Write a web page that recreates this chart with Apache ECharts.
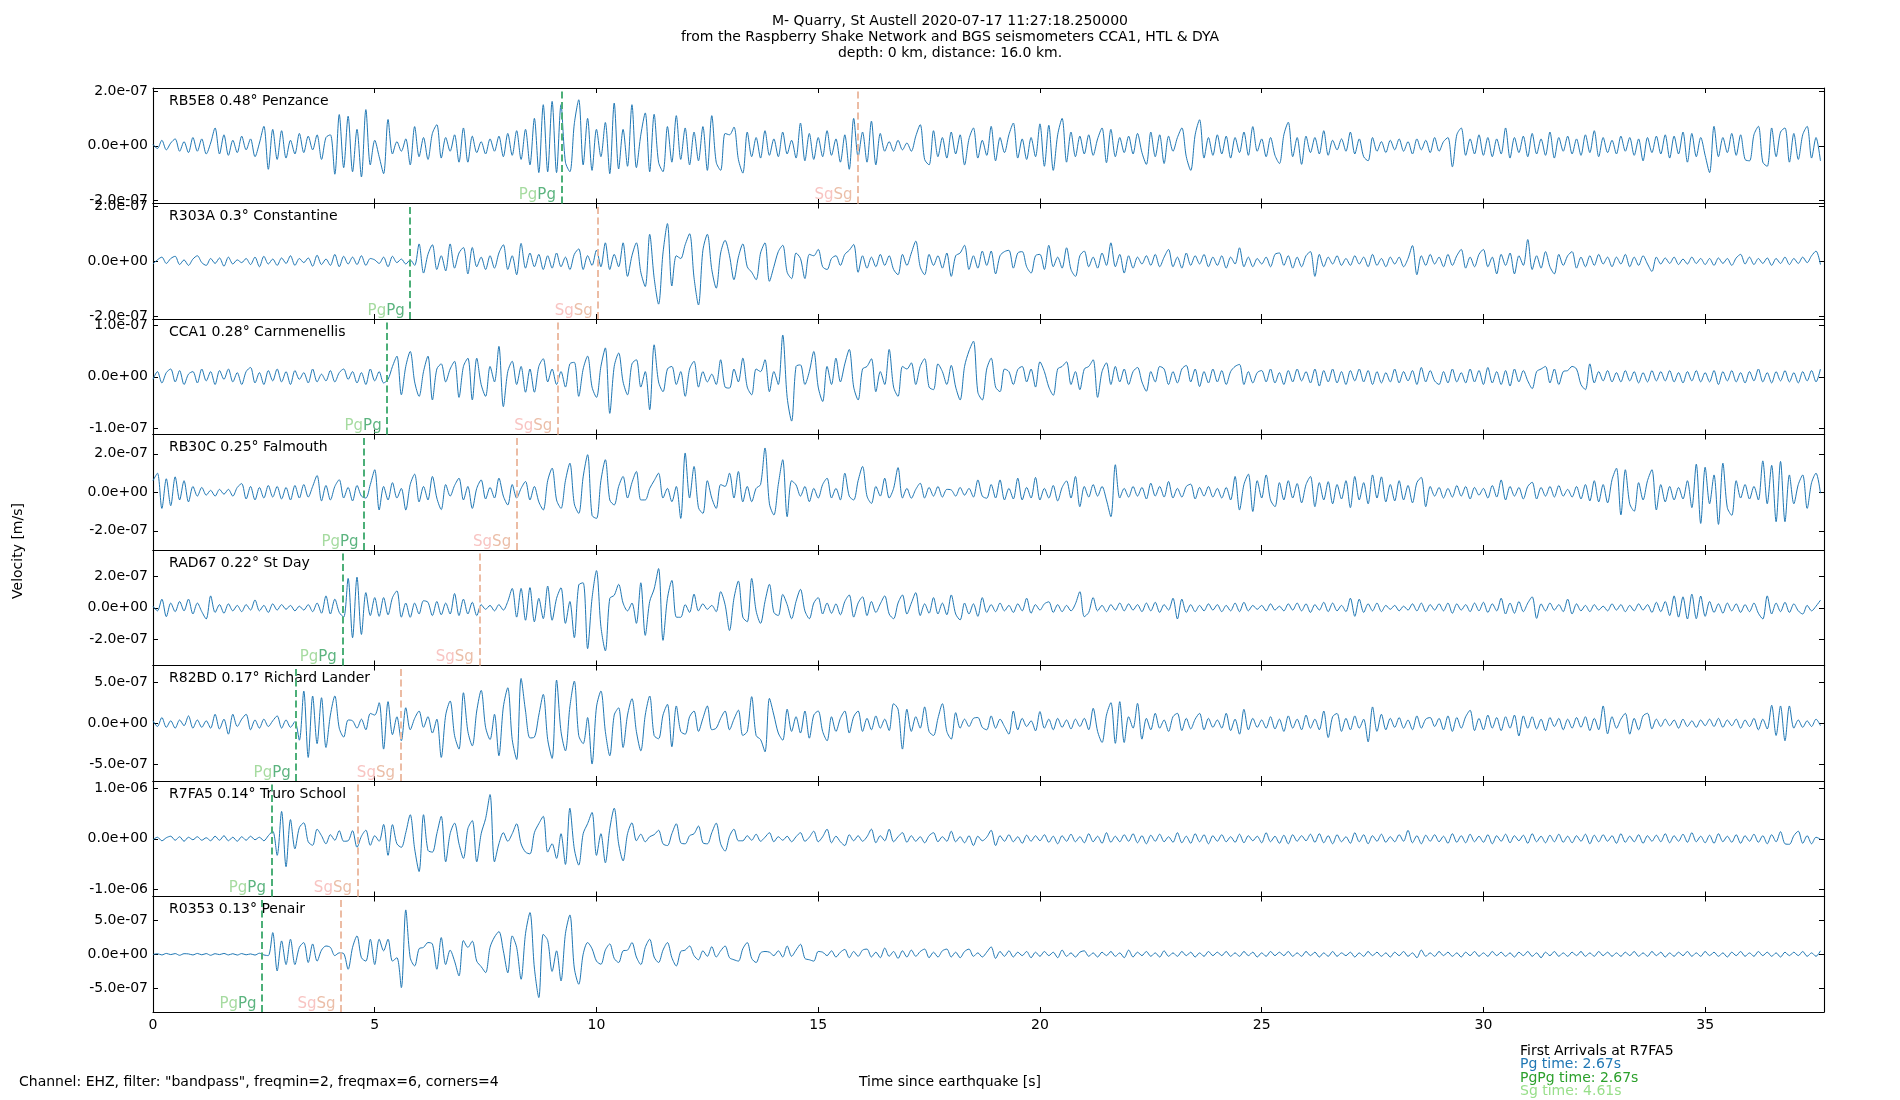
<!DOCTYPE html>
<html><head><meta charset="utf-8">
<script src="https://cdn.jsdelivr.net/npm/echarts@6/dist/echarts.min.js"></script>
<style>html,body{margin:0;padding:0;background:#fff}#c{width:1900px;height:1100px}</style>
</head><body><div id="c"></div>
<script>
// ---------------- DATA ----------------
const stationLabels = ['RB5E8 0.48° Penzance','R303A 0.3° Constantine','CCA1 0.28° Carnmenellis','RB30C 0.25° Falmouth','RAD67 0.22° St Day','R82BD 0.17° Richard Lander','R7FA5 0.14° Truro School','R0353 0.13° Penair'];
const pgTimes = [9.21, 5.80, 5.28, 4.76, 4.27, 3.23, 2.67, 2.46];
const sgTimes = [15.90, 10.04, 9.13, 8.20, 7.36, 5.58, 4.61, 4.24];
const yLimits = [2.11e-7, 2.1e-7, 1.12e-7, 3.0e-7, 3.7e-7, 7.08e-7, 1.146e-6, 8.4e-7];
const yTickSteps = [2e-7, 2e-7, 1e-7, 2e-7, 2e-7, 5e-7, 1e-6, 5e-7];
const xTicks = [0, 5, 10, 15, 20, 25, 30, 35];
const xMax = 37.68;
const sampleDt = 0.1;     // seconds between samples
const unit = 1e-9;        // samples below are in nm/s

const rb5e8 = [
5,-10,20,-15,10,25,-20,15,-25,30,
-20,25,-30,10,65,-30,40,-35,20,-25,
35,-15,25,-40,10,71,-86,60,-50,55,
-45,20,-30,45,-25,35,-15,40,-50,30,
40,-104,114,-80,108,-95,60,-114,132,-70,
20,-40,-102,96,-30,15,-20,25,-70,70,
-40,30,-50,45,77,-45,30,-20,40,-60,
65,-60,35,-25,15,-30,25,-20,35,-40,
45,-35,55,-50,60,-70,100,-98,150,-95,
162,-98,150,-60,-95,80,168,-70,100,-90,
60,-40,85,-102,156,-85,60,-75,150,-80,
40,120,-95,115,-60,-95,70,-60,110,-50,
65,-70,50,-55,70,-90,110,-60,-90,45,
40,68,-50,-100,50,-40,30,-45,55,-35,
25,-40,50,-30,20,-45,83,-55,45,-50,
30,-40,55,-35,25,-60,40,-86,100,-40,
50,-60,90,-70,45,-20,15,-20,20,-15,
10,-20,35,77,-50,-70,55,-40,30,-45,
50,-30,40,-70,25,65,-45,20,-35,71,
-55,30,-25,40,83,-45,25,-50,30,-40,
80,-75,75,-90,40,100,-60,50,-40,35,
-30,40,-35,25,65,-62,60,-40,30,-25,
35,-30,45,-25,-68,50,-40,40,-65,35,
-20,30,65,-40,-90,40,95,-45,30,-35,
40,-30,35,-45,30,-25,50,-35,70,-20,
25,-40,30,-35,-65,40,86,-40,30,-68,
35,-25,30,-30,55,-35,20,-15,25,-20,
50,-30,25,-40,-55,30,-20,15,-25,20,
-15,25,-20,15,-30,25,-15,20,-25,30,
-20,15,30,-77,40,65,-35,25,-30,40,
-35,30,-40,25,-30,65,-45,30,-25,35,
-40,45,-30,25,-35,50,-45,30,-20,35,
-30,25,-35,40,-25,55,-40,30,-25,20,
-30,35,-20,30,-35,25,-55,30,-25,35,
-30,40,-45,35,-30,50,-60,45,-40,30,
-35,-98,71,-40,30,-25,45,-35,40,-50,
-55,40,71,-60,-75,65,-40,50,65,-60,
45,-50,40,71,-45,30,-55];

const r303a = [
-10,5,15,-8,10,18,-12,5,-15,8,
20,-5,-15,10,-8,12,-18,15,-10,5,
-5,10,-12,15,-20,18,-10,8,-15,12,
-8,20,-15,10,-5,12,-18,22,-12,8,
-15,25,-20,18,-10,15,-12,20,-15,10,
5,-8,15,-20,18,-5,8,-10,5,-15,
63,-43,25,60,-30,20,-35,63,-25,30,
50,-46,50,-20,15,-30,20,-25,30,60,
-30,20,-49,65,-25,30,-20,25,-30,20,
-25,30,-20,15,-30,25,45,-30,20,-15,
40,-20,67,-30,25,-20,67,-55,20,67,
-40,-92,98,-60,-156,30,137,-90,20,10,
60,100,-60,-159,40,98,-30,-98,30,76,
20,-67,15,63,-20,-40,-67,30,67,-73,
-20,35,58,-40,-63,30,10,-63,25,20,
43,-20,-30,10,20,-15,25,40,61,-40,
20,-25,15,-20,25,-15,20,-30,-49,25,
-15,30,73,-20,-49,25,-15,20,-25,30,
-55,20,30,58,-30,20,-25,37,-15,37,
-46,20,35,40,-25,30,35,-20,-43,20,
25,-30,58,-20,15,-25,49,-30,-55,20,
37,-20,15,-25,30,-15,67,-20,25,-43,
20,-25,15,-10,20,-15,25,-20,15,43,
-20,15,-25,30,-15,20,-10,25,-20,15,
-15,20,-25,15,-10,49,-20,15,-20,10,
-10,15,-20,25,30,-15,20,-25,15,-20,
20,35,-55,25,-20,15,-10,20,-15,10,
-15,20,-10,15,-20,25,-15,10,-20,15,
-10,15,-20,10,57,-49,20,-15,25,-10,
15,-20,25,-15,20,43,-25,15,-20,25,
43,-20,15,-46,25,-15,30,-46,20,-15,
79,-30,20,-25,35,-20,-46,25,-15,20,
35,-25,15,-20,20,-15,25,-10,15,-20,
15,-10,25,-20,15,-15,20,-10,-37,15,
-10,12,-8,15,-12,8,-10,15,-8,10,
-12,10,-15,12,-8,10,-15,12,25,-10,
15,-12,10,-8,12,-15,10,-8,15,-12,
10,-8,15,-5,20,37,-12];

const cca1 = [
-5,10,-12,8,15,-10,12,-15,5,10,
-12,15,-8,10,-15,12,-5,15,-10,8,
-15,10,18,-12,8,-15,12,-8,15,-10,
10,-15,12,-5,8,-12,15,-10,5,-8,
12,-10,8,15,-5,10,-12,8,-15,15,
-8,10,-12,-5,20,40,-35,20,49,-10,
-38,10,40,-45,15,25,-10,15,30,-40,
20,36,-45,36,-15,-38,20,-10,59,-58,
10,30,-15,20,-30,15,-30,20,35,-10,
15,-15,10,-20,25,28,-38,15,40,-20,
-40,20,56,-71,20,46,-10,-35,25,33,
-20,10,-64,62,-10,-29,15,20,-15,10,
-38,15,30,-20,10,-10,5,-15,33,-20,
-22,15,-10,36,-20,-35,15,10,33,-29,
10,-15,81,-40,-86,20,23,-15,10,49,
-20,-48,20,-15,36,-10,25,53,-20,-45,
15,20,35,-29,10,-15,53,-20,-38,20,
15,27,-15,20,35,-20,-25,25,10,-15,
22,-20,-45,20,50,69,-30,-45,15,36,
-20,-29,15,10,-15,14,20,-10,15,-20,
29,10,-20,-36,15,20,29,-15,10,-25,
15,20,33,-40,10,27,-15,20,-10,15,
-15,10,18,-10,-28,10,-10,20,15,-15,
10,-12,15,22,-10,15,-19,10,-12,15,
-10,12,-15,10,20,24,-15,10,-12,8,
12,-10,15,-12,8,-15,12,-10,15,-8,
10,-12,15,-18,12,-10,15,-12,10,-15,
12,-8,15,-10,12,-15,10,-12,8,-10,
15,-12,10,-8,12,-15,18,-10,12,-8,
-15,10,-12,15,-10,8,-12,15,-10,12,
-15,18,-12,10,-15,12,-18,15,-10,12,
-8,-23,10,15,20,-12,15,-15,10,12,
20,15,-15,-25,25,-12,10,-8,12,-10,
8,-10,12,-8,10,-12,8,-10,12,-8,
10,-8,12,-10,8,-12,10,-8,12,-10,
8,-10,12,-15,10,-8,12,-10,8,-12,
10,-8,15,-10,8,-12,10,-8,12,-10,
8,-12,10,-8,12,-10,15];

const rb30c = [
60,99,-84,70,-70,80,-40,60,-50,30,
-20,25,-15,10,-20,15,-10,15,-20,25,
45,-35,30,-40,25,-30,35,-25,30,-35,
25,-40,35,-30,40,-25,30,87,-45,35,
-40,30,65,-30,25,-45,35,-20,-30,40,
117,-92,30,-40,50,-30,20,-92,40,94,
-50,30,-40,82,-30,-90,40,-20,35,73,
-40,30,-84,20,64,-35,25,-30,73,-20,
-66,40,-30,20,56,-40,30,-50,-92,60,
125,-40,-84,60,151,-60,-110,80,195,-120,
-136,60,169,-40,-66,30,82,-30,50,108,
-40,-40,20,60,99,-30,20,-49,30,-136,
204,-30,134,-80,-110,60,-30,-84,40,30,
99,-30,108,-50,30,-49,20,40,230,-60,
-118,40,169,-127,60,38,-20,30,-49,20,
-30,40,73,-30,20,-40,99,-20,-40,60,
134,-20,-58,30,-20,73,-30,20,128,-30,
20,-31,15,47,-30,25,-20,30,-25,15,
12,-20,25,-15,20,-25,64,-20,-31,40,
-30,64,-40,20,-35,73,-40,25,-30,77,
-40,20,-30,35,-45,25,59,-30,82,-75,
30,-25,40,-20,30,-40,-127,143,-30,20,
-25,30,-20,25,-35,47,-20,30,-25,56,
-30,20,-25,30,42,-35,25,-20,30,-25,
20,-30,25,-40,82,-92,40,94,-100,60,
-30,90,-40,-75,50,-40,60,-30,45,-55,
40,82,-75,50,-40,55,-60,40,-35,60,
-80,82,-40,50,-60,90,-30,80,-50,40,
-45,60,-40,35,-55,50,77,-75,30,-20,
25,-30,20,-25,35,-20,30,-35,25,-15,
20,-30,35,-25,64,-40,30,-20,25,-35,
30,52,-35,25,-20,30,-25,35,-20,15,
-25,30,-35,40,-45,60,-50,40,-55,65,
125,-118,117,-60,-99,50,-40,60,117,-92,
40,-50,30,-40,25,-35,60,-80,146,-162,
130,-60,90,-167,151,-80,-120,60,-30,40,
-35,30,-40,163,-60,140,-153,160,-153,90,
-60,40,90,-84,50,99,-5];

const rad67 = [
10,-20,55,-57,30,-25,40,-20,55,-40,
30,-25,-72,76,-30,20,-35,25,-20,15,
-25,20,-15,50,-20,15,-30,25,-15,20,
-10,15,-20,10,-15,20,-25,30,-35,76,
-40,55,-30,-60,188,-192,196,-171,97,-50,
65,-55,65,-45,65,108,-60,30,-61,30,
-40,45,35,-50,40,-45,30,-40,91,-50,
55,-40,35,-50,20,-10,15,-20,20,-15,
40,124,-60,124,-80,129,-90,60,-70,139,
-80,60,128,-100,40,-192,146,160,-262,60,
238,-120,-276,60,80,150,30,-20,30,-100,
160,-177,40,120,251,-209,60,175,-60,-61,
20,-30,87,-20,25,-10,15,-25,103,20,
-146,60,171,-60,-90,188,-20,-100,40,150,
-30,-50,85,20,-70,40,118,-20,-70,30,
65,-40,30,-35,25,-45,40,82,-60,30,
70,-50,40,-30,25,76,-40,-70,30,82,
-40,30,97,-50,25,-35,65,-40,30,-45,
82,-40,-78,30,-40,25,-55,65,-30,20,
-25,30,-20,15,-30,25,-20,61,-35,20,
-15,25,38,-30,20,-25,15,-20,25,103,
-57,-30,65,-20,15,-25,20,-15,30,-20,
25,-15,20,-25,30,-20,35,-30,20,-15,
61,-72,55,-30,20,-25,15,-20,25,-15,
20,-25,15,-20,30,-25,35,-20,15,-10,
15,-20,25,-15,10,-20,25,-15,30,-20,
25,-30,20,-15,35,-25,30,-20,15,-25,
61,-55,55,-30,25,-20,30,-25,15,-10,
15,-20,10,-15,25,-20,30,-25,20,-15,
25,-20,30,-35,25,-15,20,-25,30,-20,
35,-30,25,-20,61,-40,30,-35,40,-25,
30,70,-68,25,-20,30,-15,20,-25,55,
-40,25,-20,15,-25,20,-15,10,-20,25,
-15,20,-25,15,-20,25,-15,20,-30,35,
-25,40,-50,76,-60,70,-72,87,-70,75,
-55,40,-30,25,-35,30,-20,25,-30,20,
-25,30,-35,-72,76,-40,30,-25,35,-30,
25,-20,-40,15,-20,10,48];

const r82bd = [
30,-40,70,-50,30,-60,40,-30,90,-60,
40,-50,30,-60,110,-70,50,-134,110,-40,
50,110,-80,40,-60,50,-40,30,90,-60,
40,-50,20,-208,395,-419,334,-250,313,-297,
100,334,-60,-170,40,30,-60,50,-80,120,
100,252,-317,265,-140,80,-215,190,-80,60,
150,-50,80,-120,50,-419,100,273,-150,-317,
374,-100,-277,150,403,-50,-200,110,-399,200,
435,-200,-444,549,150,-180,-170,100,354,-200,
-431,529,-100,-338,200,517,-150,-250,70,-500,
200,395,-100,-399,100,190,-297,100,301,-100,
-338,100,334,-150,-190,100,232,-289,212,-100,
-134,80,150,-100,60,212,-80,-60,60,150,
-80,50,160,-150,-100,326,-150,-200,-350,305,
100,-120,-208,172,-100,80,-120,150,-183,100,
150,-100,-215,80,-100,60,150,-120,80,150,
-100,60,-80,90,-60,50,-90,240,172,-317,
172,-100,80,-60,200,-100,-150,60,240,-100,
-195,130,-60,50,-40,60,70,-50,-80,90,
-60,50,-40,-134,150,-80,60,-40,30,-93,
143,-60,50,-80,60,-50,40,-70,50,-40,
60,-80,183,-100,-236,100,252,-246,265,-236,
80,-60,244,-195,60,-80,122,-60,40,-100,
80,122,-90,60,-70,50,122,-80,60,-50,
40,-60,122,-90,50,-134,171,-80,60,-50,
40,-60,80,-70,50,-100,90,-60,50,-80,
100,-60,50,-80,150,-175,80,120,-100,60,
-80,90,-60,50,-228,200,-100,110,-80,60,
-50,70,-60,40,-80,90,-60,50,70,-40,
60,-80,90,-100,70,-60,80,159,-90,60,
-80,100,-60,70,-90,80,-60,100,-155,90,
-60,80,-70,50,-90,70,-40,60,-80,50,
-60,70,-50,80,-90,60,-80,212,-130,80,
-60,50,122,-134,60,-80,90,122,-70,50,
-40,50,-30,40,-60,50,-40,30,-50,40,
-30,50,-40,60,-50,40,-30,50,-60,40,
-40,60,-80,50,-70,220,-150,212,-215,212,
-60,40,-50,30,-40,50,-30];

const r7fa5 = [
-20,30,-40,20,50,-30,40,-50,30,-20,
40,-30,20,-40,50,-30,60,-40,30,-50,
40,-30,50,-20,30,-40,60,150,-329,542,
-555,380,-200,220,316,-60,-130,190,60,-100,
80,-30,160,-50,-40,160,-170,50,170,-130,
60,-50,284,-329,280,-100,-170,120,477,-200,
-651,477,-230,-265,100,445,-458,100,310,-100,
-390,200,361,-458,100,400,877,-458,-100,120,
-50,100,297,-100,-265,-300,120,300,445,-265,
-100,-390,100,-510,606,-200,-522,100,300,522,
-330,100,-477,200,606,-100,-439,100,316,-40,
90,-60,40,80,168,-100,-135,100,297,-80,
-100,60,100,252,-80,-100,120,310,-100,-245,
50,190,-40,-40,60,-30,90,-50,30,120,
-60,40,-30,50,-60,40,120,-50,30,150,
-60,40,190,-80,50,-60,-135,80,-40,60,
-50,40,190,-80,60,-40,190,-60,40,120,
-70,60,-50,40,-80,60,120,-60,40,-50,
150,-60,40,-80,60,-135,50,-40,30,168,
-135,60,-50,80,-60,40,-90,70,-50,60,
-40,80,-70,50,-100,60,-50,90,-60,40,
-80,100,-60,50,-90,120,-70,50,-60,80,
-50,100,-80,60,-100,70,-50,90,-60,40,
-70,120,-80,50,-90,100,-60,80,-100,60,
-50,80,-60,40,-70,90,-80,60,-40,50,
-80,120,-60,50,-90,70,-100,80,-50,60,
-40,90,-70,100,-80,60,-100,80,-60,40,
-90,120,-60,80,-100,60,-50,90,-70,40,
-60,80,-50,168,-80,60,-100,70,-50,80,
-60,50,-90,100,-70,60,-80,90,-60,50,
-70,80,-100,60,-50,90,-80,60,-40,70,
-90,100,-60,50,-80,70,-60,90,-70,50,
-80,60,-50,90,-100,70,-60,80,-50,60,
-90,100,-70,50,-60,80,-90,60,-50,70,
-60,100,-80,60,-50,90,-70,120,-60,50,
-80,70,-90,100,-60,50,-70,80,-90,60,
-50,90,-70,60,-100,80,-60,140,-100,-110,
60,150,-90,60,-100,30,-10];

const r0353 = [
-5,8,-10,12,-5,10,-15,8,5,-10,
12,-8,10,-15,8,-5,12,-10,8,-12,
10,-8,5,-12,15,-10,-20,315,-243,194,
-150,218,-150,100,170,-120,150,-100,60,120,
100,-20,20,10,-218,100,267,-50,-100,218,
-150,218,50,218,-100,-50,-485,645,-50,-170,
80,100,170,150,-218,243,-150,60,-100,-315,
200,100,190,-100,-180,-267,100,250,330,50,
-270,267,100,-364,300,606,-200,-630,291,200,
-250,50,-388,300,572,-200,-436,0,170,80,
-100,-145,60,150,-60,-120,50,60,170,-40,
-150,100,218,-40,-120,60,170,-50,-170,40,
60,120,-20,-80,50,-30,110,-40,50,120,
-50,-80,-100,80,170,-60,-120,20,40,30,
-20,50,-40,120,-30,60,145,-60,-80,-100,
40,30,-20,50,-40,30,70,-50,40,-30,
60,75,-40,30,-50,90,-30,40,-60,50,
-40,60,-30,40,75,-50,30,-40,50,75,
-40,30,-50,40,75,-30,20,-40,30,107,
-60,40,-30,50,-40,30,-20,40,-50,30,
-30,40,-20,30,-50,60,-30,20,-40,30,
50,-30,20,-40,30,-20,40,-30,20,-50,
60,-40,30,-20,40,-30,20,-40,50,-30,
20,-30,40,-20,30,-40,20,-30,40,-20,
30,-20,40,-30,20,-30,40,-20,30,-40,
20,-30,40,-20,30,-20,40,-30,20,-30,
40,-20,30,-40,20,-30,40,-30,20,-20,
30,-40,20,-30,40,-20,30,-30,20,-40,
30,-20,40,-30,20,-50,60,-30,20,-30,
40,-20,30,-30,20,-40,30,-20,40,-30,
20,-30,40,-20,30,-30,20,-40,30,-20,
40,-30,20,-50,30,-20,40,-30,20,-30,
30,-20,40,-30,20,-30,40,-20,30,-30,
20,-30,30,-20,40,-30,20,-30,40,-20,
30,-40,20,-30,30,-20,40,-30,20,-30,
40,-20,30,-30,20,-40,30,-20,40,-30,
20,-30,40,-20,30,-30,20,-40,30,-20,
30,-20,40,-30,20,-30,50];

const traces = [rb5e8, r303a, cca1, rb30c, rad67, r82bd, r7fa5, r0353];

const arrivalLines = ['First Arrivals at R7FA5', 'Pg time: 2.67s', 'PgPg time: 2.67s', 'Sg time: 4.61s'];
const titleText = 'M- Quarry, St Austell 2020-07-17 11:27:18.250000\nfrom the Raspberry Shake Network and BGS seismometers CCA1, HTL & DYA\ndepth: 0 km, distance: 16.0 km.';
const footText = 'Channel: EHZ, filter: "bandpass", freqmin=2, freqmax=6, corners=4';
const xLabel = 'Time since earthquake [s]';
const yLabel = 'Velocity [m/s]';

// ---------------- STYLE / LAYOUT ----------------
const FONT = 'DejaVu Sans';
const FS = 14;
const GL = 153, GR = 76, GT = 88, GH = 115.5;
const TRACE = '#1f77b4';
const PG_LINE = '#4caf78', PG_LIGHT = '#a6dba0', PG_DARK = '#5cb47f';
const SG_LINE = '#ecbca4', SG_LIGHT = '#f8c4c2', SG_DARK = '#ebbea8';
const arrivalColors = ['#000000', '#1f77b4', '#2ca02c', '#98df8a'];

function sci(v) {
  if (Math.abs(v) < 1e-30) return '0.0e+00';
  const s = v.toExponential(1);
  const parts = s.split('e');
  const sign = parts[1][0] === '-' ? '-' : '+';
  let d = parts[1].replace(/[+-]/, '');
  if (d.length < 2) d = '0' + d;
  return parts[0] + 'e' + sign + d;
}

const axLine = {show: true, onZero: false, lineStyle: {color: '#000', width: 1.1}};
const grids = [], xAxes = [], yAxes = [], series = [], graphics = [];

traces.forEach((tr, i) => {
  const top = GT + i * GH;
  grids.push({left: GL, right: GR, top: top, height: GH});
  const lim = yLimits[i], st = yTickSteps[i];
  const yt = [-st, 0, st];
  const last = i === traces.length - 1;
  ['bottom', 'top'].forEach(pos => {
    xAxes.push({
      gridIndex: i, type: 'value', position: pos, min: 0, max: xMax,
      axisLine: axLine,
      axisTick: {show: true, inside: true, length: 5, customValues: xTicks, lineStyle: {color: '#000', width: 1}},
      axisLabel: {show: last && pos === 'bottom', customValues: xTicks, margin: 6, fontSize: FS, color: '#000', fontFamily: FONT},
      splitLine: {show: false}
    });
  });
  ['left', 'right'].forEach(pos => {
    yAxes.push({
      gridIndex: i, type: 'value', position: pos, min: -lim, max: lim,
      axisLine: axLine,
      axisTick: {show: true, inside: true, length: 5, customValues: yt, lineStyle: {color: '#000', width: 1}},
      axisLabel: {show: pos === 'left', customValues: yt, margin: 5, fontSize: FS, color: '#000', fontFamily: FONT, formatter: sci},
      splitLine: {show: false}
    });
  });
  const data = tr.map((v, k) => [Math.round(k * sampleDt * 10) / 10, v * unit]);
  const lbl = (light, dark, txt) => ({
    show: true, position: [0, 0], align: 'right', verticalAlign: 'bottom', offset: [-5, 1],
    formatter: '{a|' + txt + '}{b|' + txt + '}',
    rich: {a: {color: light, fontSize: 15, fontFamily: FONT, lineHeight: 17}, b: {color: dark, fontSize: 15, fontFamily: FONT, lineHeight: 17}}
  });
  series.push({
    type: 'line', xAxisIndex: 2 * i, yAxisIndex: 2 * i, data: data,
    showSymbol: false, symbol: 'none', smooth: 0.3, silent: true, animation: false,
    lineStyle: {color: TRACE, width: 1},
    markLine: {
      silent: true, animation: false, symbol: ['none', 'none'], label: {show: false},
      data: [
        {xAxis: pgTimes[i], lineStyle: {color: PG_LINE, width: 2, type: [7, 3.5]}},
        {xAxis: sgTimes[i], lineStyle: {color: SG_LINE, width: 2, type: [7, 3.5]}}
      ]
    },
    markPoint: {
      silent: true, animation: false, symbol: 'rect', symbolSize: 1,
      itemStyle: {color: 'rgba(0,0,0,0)'},
      data: [
        {coord: [pgTimes[i], -lim], label: lbl(PG_LIGHT, PG_DARK, 'Pg')},
        {coord: [sgTimes[i], -lim], label: lbl(SG_LIGHT, SG_DARK, 'Sg')}
      ]
    }
  });
  graphics.push({type: 'text', x: GL + 16, y: top + 13, silent: true,
    style: {text: stationLabels[i], fill: '#000', font: FS + 'px "' + FONT + '"', textAlign: 'left', textVerticalAlign: 'middle', align: 'left', verticalAlign: 'middle'}});
});

graphics.push({type: 'text', x: 19, y: 1082, silent: true,
  style: {text: footText, fill: '#000', font: FS + 'px "' + FONT + '"', textAlign: 'left', textVerticalAlign: 'middle', align: 'left', verticalAlign: 'middle'}});
graphics.push({type: 'text', x: 950, y: 1082, silent: true,
  style: {text: xLabel, fill: '#000', font: FS + 'px "' + FONT + '"', textAlign: 'center', textVerticalAlign: 'middle', align: 'center', verticalAlign: 'middle'}});
graphics.push({type: 'text', x: 18, y: 551, rotation: Math.PI / 2, silent: true,
  style: {text: yLabel, fill: '#000', font: FS + 'px "' + FONT + '"', textAlign: 'center', textVerticalAlign: 'middle', align: 'center', verticalAlign: 'middle'}});
arrivalLines.forEach((t, k) => {
  graphics.push({type: 'text', x: 1520, y: 1051 + k * 13.6, silent: true,
    style: {text: t, fill: arrivalColors[k], font: FS + 'px "' + FONT + '"', textAlign: 'left', textVerticalAlign: 'middle', align: 'left', verticalAlign: 'middle'}});
});

const chart = echarts.init(document.getElementById('c'), null, {renderer: 'canvas'});
chart.setOption({
  animation: false,
  backgroundColor: '#fff',
  title: {text: titleText, left: 'center', top: 8,
    textStyle: {fontSize: FS, fontWeight: 'normal', color: '#000', fontFamily: FONT, lineHeight: 16}},
  grid: grids, xAxis: xAxes, yAxis: yAxes, series: series, graphic: graphics
});
</script>
</body></html>
